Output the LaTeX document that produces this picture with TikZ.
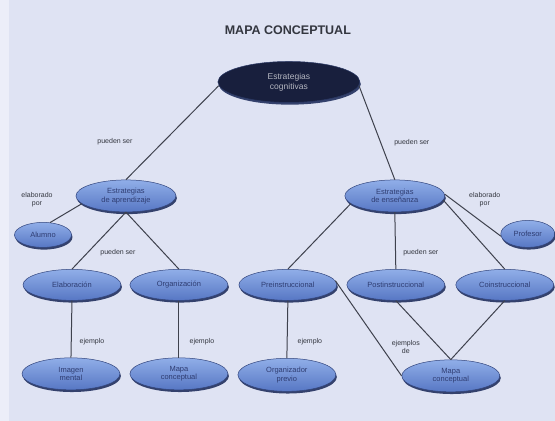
\documentclass[tikz,border=0pt]{standalone}
\usepackage{fontspec}
\setmainfont{Liberation Sans}
\usetikzlibrary{shapes.geometric,shadows}
\definecolor{fondo}{HTML}{DFE3F3}
\definecolor{orilla}{HTML}{ECEEF9}
\definecolor{azulclaro}{HTML}{90AEE8}
\definecolor{azuloscuro}{HTML}{5777C4}
\definecolor{sombra}{HTML}{22305E}
\definecolor{textoazul}{HTML}{2F3D72}
\definecolor{marino}{HTML}{181F3D}
\definecolor{grislinea}{HTML}{3E414D}
\definecolor{gristexto}{HTML}{33363F}
\begin{document}
\begin{tikzpicture}[x=1pt,y=-1pt,
        concepto/.style={ellipse,minimum width=98pt,minimum height=31pt,inner sep=0pt,align=center,
            font=\fontsize{7.5}{8.5}\selectfont,text=textoazul,top color=azulclaro,bottom color=azuloscuro,
            draw=sombra!70!azuloscuro,line width=.5pt,
            drop shadow={shadow xshift=1pt,shadow yshift=-2.2pt,fill=sombra,opacity=.9}},
        enlace/.style={font=\fontsize{7}{8}\selectfont,text=gristexto,align=center},
        linea/.style={grislinea,line width=1pt}]
    \fill[fondo] (0,0) rectangle (555,421);
    \fill[orilla] (0,0) rectangle (9,421);
    \node[font=\bfseries\fontsize{12.5}{13}\selectfont,text=gristexto] (titulo) at (288,30) {MAPA CONCEPTUAL};
    \node[concepto,minimum width=142pt,minimum height=41pt,top color=marino,bottom color=marino,draw=marino!70!azuloscuro,font=\fontsize{8.5}{10}\selectfont,text=white!68!marino] (raiz) at (289,82) {Estrategias\\cognitivas};
    \node[concepto,minimum width=100pt,minimum height=32pt] (izq) at (126,196) {Estrategias\\de aprendizaje};
    \node[concepto,minimum width=100pt,minimum height=32pt] (der) at (395,196) {Estrategias\\de enseñanza};
    \node[concepto,minimum width=57pt,minimum height=25pt] (alumno) at (43,235) {Alumno};
    \node[concepto,minimum width=54pt,minimum height=27pt] (profesor) at (528,234) {Profesor};
    \node[concepto] (elab) at (72,285) {Elaboración};
    \node[concepto] (orga) at (179,285) {Organización};
    \node[concepto] (pre) at (288,285) {Preinstruccional};
    \node[concepto] (post) at (396,285) {Postinstruccional};
    \node[concepto] (co) at (505,285) {Coinstruccional};
    \node[concepto,minimum height=32pt] (imagen) at (71,374) {Imagen\\mental};
    \node[concepto,minimum height=32pt] (mapaA) at (179,374) {Mapa\\conceptual};
    \node[concepto,minimum height=33pt] (previo) at (287,375) {Organizador\\previo};
    \node[concepto,minimum height=32pt] (mapaB) at (451,376) {Mapa\\conceptual};
    \draw[linea] (raiz.183) -- (izq.north);
    \draw[linea] (raiz.357) -- (der.north);
    \draw[linea] (izq.190) -- (alumno.60);
    \draw[linea] (izq.south) -- (elab.north);
    \draw[linea] (izq.south) -- (orga.north);
    \draw[linea] (der.190) -- (pre.north);
    \draw[linea] (der.south) -- (post.north);
    \draw[linea] (der.355) -- (co.north);
    \draw[linea] (der.2) -- (profesor.185);
    \draw[linea] (elab.south) -- (imagen.north);
    \draw[linea] (orga.south) -- (mapaA.north);
    \draw[linea] (pre.south) -- (previo.north);
    \draw[linea] (pre.5) -- (mapaB.180);
    \draw[linea] (post.south) -- (mapaB.north);
    \draw[linea] (co.south) -- (mapaB.north);
    \node[enlace] (l1) at (115,142) {pueden ser};
    \node[enlace] (l2) at (412,143) {pueden ser};
    \node[enlace] (l3) at (37,200) {elaborado\\por};
    \node[enlace] (l4) at (485,200) {elaborado\\por};
    \node[enlace] (l5) at (118,253) {pueden ser};
    \node[enlace] (l6) at (421,253) {pueden ser};
    \node[enlace] (l7) at (92,342) {ejemplo};
    \node[enlace] (l8) at (202,342) {ejemplo};
    \node[enlace] (l9) at (310,342) {ejemplo};
    \node[enlace] (l10) at (406,347) {ejemplos\\de};
\end{tikzpicture}
\end{document}
